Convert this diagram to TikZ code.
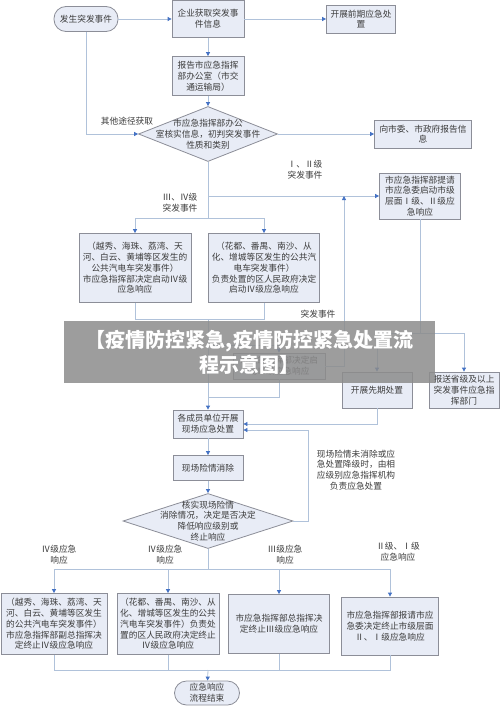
\documentclass[tikz,border=0pt]{standalone}
\usepackage{fontspec}
\newfontfamily\cjk{Noto Sans CJK SC}
\usetikzlibrary{positioning,arrows.meta,shapes.geometric}
\definecolor{boxfill}{RGB}{232,236,246}
\definecolor{boxline}{RGB}{140,142,152}
\definecolor{wire}{RGB}{176,194,218}
\definecolor{tipblue}{RGB}{68,114,196}
\definecolor{ink}{RGB}{60,60,60}

\begin{document}
\begin{tikzpicture}[x=1pt,y=-1pt,font=\cjk\fontsize{8.7}{10.8}\selectfont,text=ink]
    \tikzstyle{box}=[draw=boxline, fill=boxfill, align=center, inner sep=1pt, line width=0.8pt]
    \tikzstyle{term}=[box, rounded corners=12pt]
    \tikzstyle{decision}=[draw=boxline, fill=boxfill, diamond, inner sep=0pt, line width=0.8pt]
    \tikzstyle{note}=[align=center, inner sep=0pt]
    \tikzstyle{line}=[draw=wire, line width=0.8pt]
    \tikzstyle{flow}=[line, -{Triangle[length=4pt,width=4pt,color=tipblue]}]
    \tikzstyle{banner}=[fill=black!45, fill opacity=0.85, text opacity=1, text=white, align=center,
        inner sep=0pt, minimum width=371pt, minimum height=62pt,
        font=\cjk\bfseries\fontsize{20}{25}\selectfont]
    \useasboundingbox[fill=white] (0,0) rectangle (500,706);

    % receiving the information
    \node[term, minimum width=64pt, minimum height=25pt] (start) at (86,19) {发生突发事件};
    \node[box, minimum width=72pt, minimum height=37pt] (info) at (208,19) {企业获取突发事\\件信息};
    \node[box, minimum width=69pt, minimum height=28pt] (early) at (361,19) {开展前期应急处\\置};
    \node[box, minimum width=72pt, minimum height=39pt] (report) at (208,76) {报告市应急指挥\\部办公室（市交\\通运输局）};
    \node[decision, minimum width=139pt, minimum height=55pt] (verify) at (208,134) {};
    \node[note] (verifytext) at (verify) {市应急指挥部办公\\室核实信息，初判突发事件\\性质和类别};
    \node[box, minimum width=97pt, minimum height=28pt] (cityrep) at (423,134) {向市委、市政府报告信\\息};
    \node[box, minimum width=81pt, minimum height=46pt] (cityI) at (420,196) {市应急指挥部提请\\市应急委启动市级\\层面Ⅰ级、Ⅱ级应\\急响应};
    \node[note] (otherlbl) at (127,121) {其他途径获取};
    \node[note] (lowlbl) at (180,203) {Ⅲ、Ⅳ级\\突发事件};
    \node[note] (highlbl) at (305,170) {Ⅰ、Ⅱ级\\突发事件};

    % starting the response
    \node[box, minimum width=112pt, minimum height=69pt] (ivA) at (135,268) {（越秀、海珠、荔湾、天\\河、白云、黄埔等区发生的\\公共汽电车突发事件）\\市应急指挥部决定启动Ⅳ级\\应急响应};
    \node[box, minimum width=111pt, minimum height=69pt] (ivB) at (264,268) {（花都、番禺、南沙、从\\化、增城等区发生的公共汽\\电车突发事件）\\负责处置的区人民政府决定\\启动Ⅳ级应急响应};
    \node[box, minimum width=92pt, minimum height=26pt] (iii) at (279,366) {市应急指挥部决定启\\动Ⅲ级应急响应};
    \node[note] (esclbl) at (318,314) {突发事件};
    \node[box, minimum width=70pt, minimum height=36pt] (prelim) at (377,390) {开展先期处置};
    \node[box, minimum width=70pt, minimum height=36pt] (prov) at (464,390) {报送省级及以上\\突发事件应急指\\挥部门};

    % on site
    \node[box, minimum width=70pt, minimum height=28pt] (onsite) at (208,424) {各成员单位开展\\现场应急处置};
    \node[box, minimum width=70pt, minimum height=25pt] (clear) at (208,468) {现场险情消除};
    \node[decision, minimum width=170pt, minimum height=55pt] (check) at (208,521) {};
    \node[note] (checktext) at (check) {核实现场险情\\消除情况，决定是否决定\\降低响应级别或\\终止响应};
    \node[note] (looplbl) at (356,470) {现场险情未消除或应\\急处置降级时，由相\\应级别应急指挥机构\\负责应急处置};
    \node[note] (lvA) at (59,555) {Ⅳ级应急\\响应};
    \node[note] (lvB) at (165,555) {Ⅳ级应急\\响应};
    \node[note] (lvC) at (285,555) {Ⅲ级应急\\响应};
    \node[note] (lvD) at (398,552) {Ⅱ级、Ⅰ级\\应急响应};

    % ending the response
    \node[box, minimum width=106pt, minimum height=61pt] (endA) at (54,624) {（越秀、海珠、荔湾、天\\河、白云、黄埔等区发生\\的公共汽电车突发事件）\\市应急指挥部副总指挥决\\定终止Ⅳ级应急响应};
    \node[box, minimum width=102pt, minimum height=61pt] (endB) at (168,624) {（花都、番禺、南沙、从\\化、增城等区发生的公共\\汽电车突发事件）负责处\\置的区人民政府决定终止\\Ⅳ级应急响应};
    \node[box, minimum width=101pt, minimum height=59pt] (endC) at (279,624) {市应急指挥部总指挥决\\定终止Ⅲ级应急响应};
    \node[box, minimum width=97pt, minimum height=58pt] (endD) at (390,626) {市应急指挥部报请市应\\急委决定终止市级层面\\Ⅱ、Ⅰ级应急响应};
    \node[term, minimum width=65pt, minimum height=24pt] (finish) at (207,693) {应急响应\\流程结束};

    % junctions
    \coordinate (jI) at (208,196);
    \coordinate (jIV) at (208,218);
    \coordinate (jP) at (420,333);
    \coordinate (jM) at (208,319);
    \coordinate (jIII) at (208,345);
    \coordinate (jUp) at (344,196);
    \coordinate (jB) at (208,397);
    \coordinate (jLoop) at (308,430);
    \coordinate (jE) at (208,569);
    \coordinate (jF) at (208,670);

    \draw[flow] (start) -- (info);
    \draw[flow] (info) -- (early);
    \draw[flow] (info) -- (report);
    \draw[flow] (report) -- (verify);
    \draw[flow] (start) |- (verify);
    \draw[flow] (verify) -- (cityrep);
    \draw[line] (verify) -- (jIV);
    \draw[flow] (jI) -- (cityI);
    \draw[flow] (jIV) -| (ivA);
    \draw[flow] (jIV) -| (ivB);
    \draw[line] (cityI) -- (jP);
    \draw[flow] (jP) -| (prelim);
    \draw[flow] (jP) -| (prov);
    \draw[line] (ivA) |- (jM);
    \draw[line] (ivB) |- (jM);
    \draw[flow] (jM) -- (onsite);
    \draw[flow] (jIII) -| (iii);
    \draw[flow] (iii) -| (jUp);
    \draw[line] (iii) |- (jB);
    \draw[flow] (prelim) |- (onsite);
    \draw[flow] (onsite) -- (clear);
    \draw[flow] (clear) -- (check);
    \draw[flow] (check) -| (jLoop) -- (onsite.east |- jLoop);
    \draw[line] (check) -- (jE);
    \foreach \n in {endA,endB,endC,endD} \draw[flow] (jE) -| (\n);
    \foreach \n in {endA,endB,endC,endD} \draw[line] (\n) |- (jF);
    \draw[flow] (jF) -- (finish);

    \node[banner] (title) at (249.5,352) {【疫情防控紧急,疫情防控紧急处置流\\程示意图】};
\end{tikzpicture}
\end{document}
